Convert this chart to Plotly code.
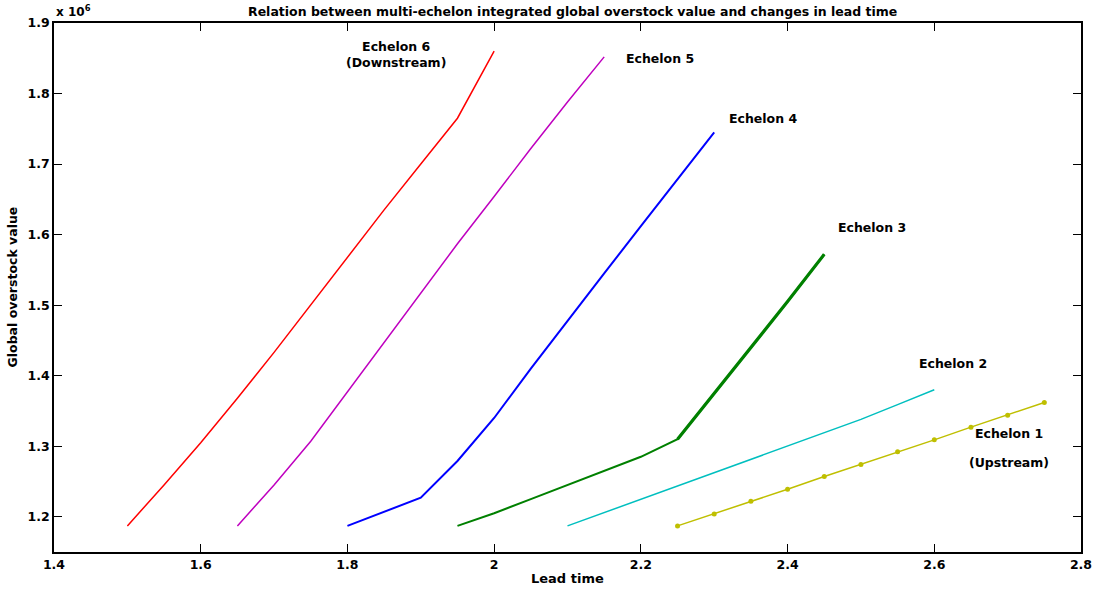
import plotly.graph_objects as go

# Lead time (x) and global overstock value (y) for each echelon
lead_e6 = [1.50, 1.55, 1.60, 1.65, 1.70, 1.75, 1.80, 1.85, 1.90, 1.95, 2.00]
value_e6 = [1.187e6, 1.245e6, 1.305e6, 1.368e6, 1.433e6, 1.500e6, 1.568e6, 1.635e6, 1.700e6, 1.765e6, 1.860e6]

lead_e5 = [1.65, 1.70, 1.75, 1.80, 1.85, 1.90, 1.95, 2.00, 2.05, 2.10, 2.15]
value_e5 = [1.187e6, 1.245e6, 1.307e6, 1.377e6, 1.448e6, 1.517e6, 1.587e6, 1.654e6, 1.722e6, 1.788e6, 1.852e6]

lead_e4 = [1.80, 1.85, 1.90, 1.95, 2.00, 2.05, 2.10, 2.15, 2.20, 2.25, 2.30]
value_e4 = [1.187e6, 1.207e6, 1.227e6, 1.279e6, 1.340e6, 1.410e6, 1.478e6, 1.545e6, 1.612e6, 1.679e6, 1.745e6]

lead_e3 = [1.95, 2.00, 2.05, 2.10, 2.15, 2.20, 2.25, 2.30, 2.35, 2.40, 2.45]
value_e3 = [1.187e6, 1.205e6, 1.225e6, 1.245e6, 1.265e6, 1.285e6, 1.310e6, 1.375e6, 1.440e6, 1.505e6, 1.572e6]

lead_e2 = [2.10, 2.15, 2.20, 2.25, 2.30, 2.35, 2.40, 2.45, 2.50, 2.55, 2.60]
value_e2 = [1.187e6, 1.206e6, 1.224e6, 1.243e6, 1.262e6, 1.281e6, 1.300e6, 1.319e6, 1.338e6, 1.359e6, 1.380e6]

lead_e1 = [2.25, 2.30, 2.35, 2.40, 2.45, 2.50, 2.55, 2.60, 2.65, 2.70, 2.75]
value_e1 = [1.187e6, 1.204e6, 1.222e6, 1.239e6, 1.257e6, 1.274e6, 1.292e6, 1.309e6, 1.327e6, 1.344e6, 1.362e6]

x_ticks = [1.4, 1.6, 1.8, 2.0, 2.2, 2.4, 2.6, 2.8]
x_tick_labels = ["1.4", "1.6", "1.8", "2", "2.2", "2.4", "2.6", "2.8"]
y_ticks = [1.2e6, 1.3e6, 1.4e6, 1.5e6, 1.6e6, 1.7e6, 1.8e6, 1.9e6]
y_tick_labels = ["1.2", "1.3", "1.4", "1.5", "1.6", "1.7", "1.8", "1.9"]

FONT = "DejaVu Sans, Arial, sans-serif"

series = [
    (lead_e6, value_e6, "#ff0000", 1.5, False),
    (lead_e5, value_e5, "#bf00bf", 1.5, False),
    (lead_e4, value_e4, "#0000ff", 2.0, False),
    (lead_e3, value_e3, "#008000", 2.0, False),
    (lead_e2, value_e2, "#00bfbf", 1.5, False),
    (lead_e1, value_e1, "#bfbf00", 1.5, True),
]

fig = go.Figure()
for xs, ys, color, width, dots in series:
    fig.add_trace(go.Scatter(
        x=xs, y=ys,
        mode="lines+markers" if dots else "lines",
        line=dict(color=color, width=width),
        marker=dict(color=color, size=5),
        showlegend=False,
    ))

# steeper upper part of echelon 3 drawn heavier
fig.add_trace(go.Scatter(
    x=lead_e3[6:], y=value_e3[6:], mode="lines",
    line=dict(color="#008000", width=3.2), showlegend=False,
))

label_font = dict(family=FONT, size=12.5, color="black")

labels = [
    (1.866, 1.855e6, "Echelon 6<br>(Downstream)"),
    (2.226, 1.849e6, "Echelon 5"),
    (2.366, 1.764e6, "Echelon 4"),
    (2.515, 1.610e6, "Echelon 3"),
    (2.625, 1.417e6, "Echelon 2"),
    (2.702, 1.318e6, "Echelon 1"),
    (2.702, 1.277e6, "(Upstream)"),
]
for lx, ly, txt in labels:
    fig.add_annotation(x=lx, y=ly, text="<b>" + txt + "</b>", showarrow=False,
                       font=label_font, xanchor="center", yanchor="middle")

fig.add_annotation(xref="paper", yref="paper", x=0.505, y=1.0, yshift=12,
                   text="<b>Relation between multi-echelon integrated global overstock value and changes in lead time</b>",
                   showarrow=False, font=dict(family=FONT, size=12.5, color="black"),
                   xanchor="center", yanchor="middle")
fig.add_annotation(xref="paper", yref="paper", x=0.0, y=1.0, yshift=12,
                   text="<b>x 10<sup>6</sup></b>", showarrow=False,
                   font=dict(family=FONT, size=12, color="black"),
                   xanchor="left", yanchor="middle")

# axis titles
fig.add_annotation(xref="paper", yref="paper", x=0.5, y=0.0, yshift=-26,
                   text="<b>Lead time</b>", showarrow=False,
                   font=dict(family=FONT, size=13, color="black"),
                   xanchor="center", yanchor="middle")
fig.add_annotation(xref="paper", yref="paper", x=0.0, y=0.5, xshift=-42,
                   text="<b>Global overstock value</b>", showarrow=False, textangle=-90,
                   font=dict(family=FONT, size=12.5, color="black"),
                   xanchor="center", yanchor="middle")

axis_common = dict(
    showline=True, linecolor="black", linewidth=1.5, mirror="ticks",
    ticks="inside", ticklen=8, tickcolor="black", tickwidth=1,
    showgrid=False, zeroline=False, automargin=False,
    tickfont=dict(family=FONT, size=12.5, color="black", weight="bold"),
)

fig.update_layout(
    width=1094, height=590,
    margin=dict(l=54, r=13, t=23, b=38),
    plot_bgcolor="white", paper_bgcolor="white",
    xaxis=dict(range=[1.4, 2.8], tickvals=x_ticks, ticktext=x_tick_labels, **axis_common),
    yaxis=dict(range=[1.15e6, 1.9e6], tickvals=y_ticks, ticktext=y_tick_labels, **axis_common),
)

fig.write_html("out.html")
